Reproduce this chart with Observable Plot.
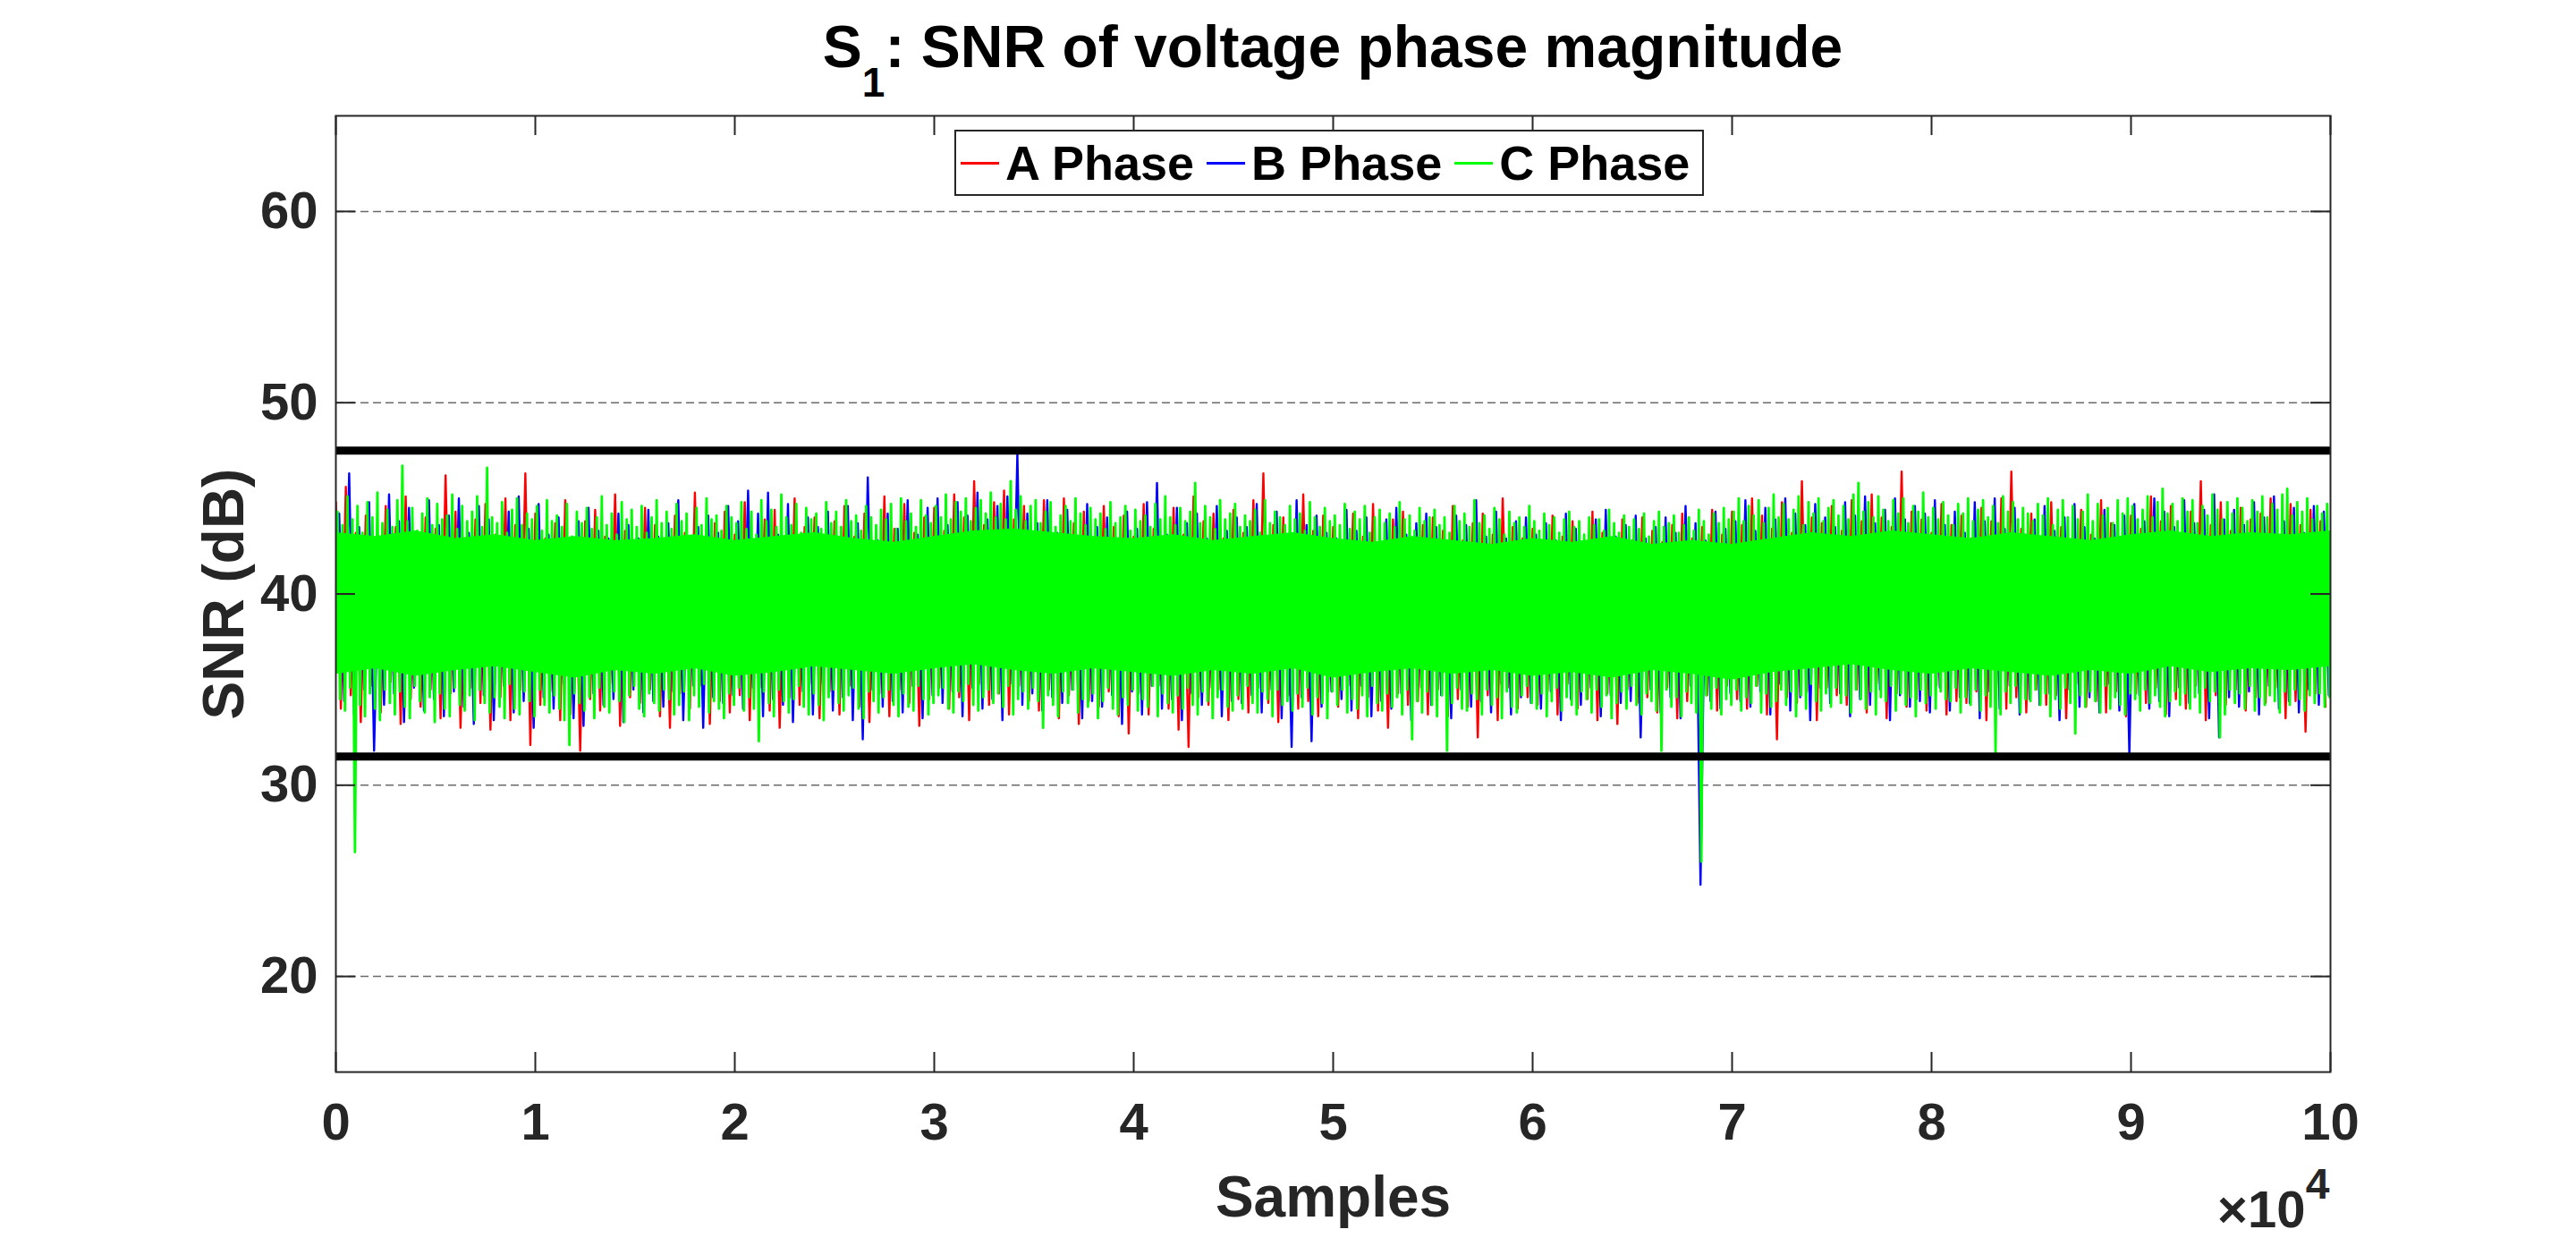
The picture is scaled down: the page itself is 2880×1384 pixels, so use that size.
<!DOCTYPE html>
<html>
<head>
<meta charset="utf-8">
<script src="https://cdn.jsdelivr.net/npm/d3@7"></script>
<script src="https://cdn.jsdelivr.net/npm/@observablehq/plot@0.6"></script>
<style>
  html, body { margin: 0; padding: 0; background: #fff; }
  #wrap { position: relative; width: 2880px; height: 1384px; overflow: hidden;
          font-family: "Liberation Sans", Arial, Helvetica, sans-serif; }
  #title { position: absolute; left: 1490px; top: 19px; transform: translateX(-50%);
           font-size: 66px; font-weight: bold; line-height: 1; white-space: nowrap; color: #000; }
  #title .sub { font-size: 46px; position: relative; top: 33px; }
  #legend { position: absolute; left: 1067px; top: 145px; width: 834px; height: 70px;
            border: 2px solid #262626; background: #fff; display: flex; align-items: center; }
  #legend .sw { width: 43px; height: 3px; flex: none; }
  #legend .lbl { font-size: 54px; font-weight: bold; color: #000; line-height: 1; white-space: nowrap; margin-left: 7px; }
  #legend .sw.first { margin-left: 5px; }
  #legend .sw.next { margin-left: 14px; }
</style>
</head>
<body>
<div id="wrap">
  <div id="chart"></div>
  <div id="title">S<span class="sub">1</span>: SNR of voltage phase magnitude</div>
  <div id="legend"></div>
</div>
<script>
// ---------- data ----------
const seriesNames = ["A Phase", "B Phase", "C Phase"];
const seriesColors = ["#ff0000", "#0000ff", "#00ff00"];
const xTicks = [0, 10000, 20000, 30000, 40000, 50000, 60000, 70000, 80000, 90000, 100000];
const xTickLabels = ["0", "1", "2", "3", "4", "5", "6", "7", "8", "9", "10"];
const yTicks = [20, 30, 40, 50, 60];
const thresholds = [47.5, 31.5];
const abSamples = 500;    // A, B: one peak & trough per 500-sample window
const cSamples = 250;     // C (plotted last, most visible): one peak & trough per 250 samples
const bodySamples = 2000; // spacing of the dense-band edge readings

// A Phase: local peaks / troughs (dB)
const aPeak = [
  44.8, 45.6, 43.2, 44.1, 42.9, 44.6, 43.5, 45.1, 42.7, 44.0,
  43.4, 46.2, 44.3, 42.8, 43.9, 44.7, 43.1, 45.0, 43.6, 46.3,
  44.2, 42.9, 43.7, 44.9, 42.6, 43.8, 44.4, 43.0, 45.2, 43.3,
  42.8, 44.5, 43.6, 42.7, 44.1, 43.2, 45.3, 42.9, 43.7, 44.3,
  43.1, 44.8, 42.6, 43.9, 44.4, 42.8, 45.0, 43.5, 44.0, 42.9,
  43.8, 44.6, 43.0, 44.2, 42.7, 45.1, 43.4, 44.7, 43.2, 44.0,
  44.5, 43.3, 45.2, 44.0, 45.9, 43.6, 44.8, 45.4, 43.9, 44.6,
  43.2, 44.9, 42.8, 45.0, 43.7, 44.3, 42.9, 44.6, 43.5, 44.1,
  43.0, 44.7, 43.4, 42.8, 44.5, 43.1, 45.1, 43.8, 44.2, 42.9,
  44.4, 43.2, 44.9, 46.3, 43.6, 44.0, 42.7, 45.2, 43.3, 44.1,
  43.5, 42.8, 44.2, 43.0, 44.7, 42.6, 43.9, 44.3, 42.9, 43.6,
  44.0, 43.3, 44.6, 42.8, 43.7, 44.2, 43.1, 45.0, 43.5, 42.9,
  43.4, 42.7, 44.1, 43.0, 43.8, 42.6, 44.3, 43.2, 42.9, 43.9,
  42.8, 44.0, 43.3, 42.7, 43.6, 44.2, 42.9, 43.5, 44.4, 43.1,
  44.3, 43.6, 45.0, 44.1, 43.4, 44.8, 43.2, 45.9, 44.0, 43.7,
  44.6, 43.3, 44.9, 43.8, 45.2, 44.0, 43.5, 46.4, 44.3, 43.9,
  43.2, 44.7, 43.6, 44.1, 42.9, 44.5, 43.8, 45.0, 46.4, 43.4,
  44.2, 43.0, 44.8, 43.5, 42.8, 44.4, 43.1, 44.9, 43.7, 42.9,
  44.1, 43.4, 45.1, 43.8, 44.6, 43.0, 44.3, 45.9, 43.6, 44.8,
  43.3, 44.5, 43.9, 44.2, 45.0, 43.1, 44.7, 43.6, 44.4, 43.8
];
const aTrough = [
  34.0, 34.7, 33.3, 35.2, 33.8, 35.4, 33.2, 34.5, 34.1, 35.0,
  33.5, 34.8, 33.0, 35.1, 34.3, 32.9, 34.6, 33.4, 35.0, 32.1,
  34.2, 34.9, 33.4, 33.7, 31.8, 34.5, 33.9, 35.3, 33.1, 34.6,
  34.3, 35.0, 33.6, 33.0, 34.8, 34.0, 35.2, 33.2, 34.4, 33.8,
  34.7, 33.4, 35.1, 33.9, 33.0, 34.6, 34.2, 35.3, 33.5, 34.9,
  33.7, 35.2, 34.1, 33.3, 34.8, 33.6, 35.0, 34.3, 33.1, 34.5,
  35.1, 34.0, 34.6, 33.4, 35.3, 34.2, 34.8, 33.7, 35.2, 34.4,
  33.9, 35.0, 33.5, 34.7, 33.2, 34.4, 34.1, 34.9, 33.6, 32.7,
  34.8, 33.7, 35.2, 34.0, 32.9, 32.0, 34.6, 34.2, 35.0, 33.4,
  34.5, 33.8, 35.1, 34.3, 33.3, 34.7, 34.0, 34.4, 33.6, 34.9,
  34.1, 35.2, 33.5, 34.6, 33.9, 33.0, 34.8, 34.2, 34.4, 33.7,
  35.0, 33.6, 34.5, 34.1, 32.5, 34.7, 33.4, 35.1, 34.0, 34.6,
  34.2, 34.9, 33.7, 35.3, 34.0, 34.5, 33.4, 34.8, 33.2, 35.0,
  34.3, 34.6, 33.8, 35.1, 33.5, 34.4, 34.1, 34.7, 33.9, 35.2,
  34.5, 34.0, 35.2, 33.7, 32.4, 34.6, 34.3, 34.9, 33.4, 35.1,
  34.7, 34.2, 35.0, 33.8, 35.3, 33.5, 34.8, 34.1, 34.5, 33.9,
  35.2, 33.7, 34.4, 34.3, 34.9, 33.4, 35.1, 34.0, 34.6, 33.8,
  35.0, 34.2, 34.7, 33.5, 35.3, 34.1, 34.4, 33.8, 34.9, 33.6,
  34.8, 34.3, 35.1, 33.7, 34.5, 34.0, 35.2, 33.4, 34.7, 34.2,
  35.0, 33.9, 34.6, 34.3, 35.1, 33.5, 34.4, 32.8, 34.8, 34.1
];

// B Phase
const bPeak = [
  44.2, 46.3, 43.5, 44.8, 43.0, 45.2, 43.8, 44.5, 42.9, 44.9,
  43.6, 44.1, 45.0, 43.2, 44.6, 43.9, 42.8, 44.3, 45.1, 43.4,
  44.7, 43.1, 44.0, 42.7, 43.8, 44.5, 43.3, 42.9, 44.2, 43.6,
  42.9, 44.4, 43.0, 43.7, 44.9, 42.8, 43.5, 44.1, 43.2, 44.6,
  43.8, 45.4, 44.2, 45.3, 43.1, 44.7, 42.9, 44.0, 43.5, 44.3,
  43.0, 44.6, 43.7, 46.1, 42.8, 44.2, 43.4, 44.9, 43.1, 44.5,
  45.0, 43.6, 44.8, 44.1, 45.3, 43.9, 44.6, 45.1, 47.3, 44.2,
  43.7, 44.9, 43.2, 44.4, 42.9, 44.7, 43.5, 44.0, 42.8, 44.3,
  43.4, 44.8, 45.8, 43.1, 44.5, 43.7, 44.2, 42.9, 44.6, 43.3,
  44.0, 43.5, 44.7, 43.0, 44.3, 42.8, 44.9, 43.6, 44.1, 43.2,
  42.9, 44.4, 43.3, 44.0, 42.7, 43.9, 44.5, 43.1, 43.7, 44.2,
  43.5, 42.8, 44.1, 43.6, 44.9, 43.0, 44.3, 42.9, 43.8, 44.0,
  43.1, 43.7, 42.8, 44.2, 43.4, 42.7, 43.9, 44.4, 43.0, 43.6,
  44.1, 42.9, 43.5, 44.0, 43.2, 44.6, 43.7, 42.8, 44.3, 43.4,
  43.8, 44.9, 43.3, 44.5, 43.9, 45.0, 44.2, 43.6, 44.7, 44.0,
  43.5, 44.8, 44.1, 45.1, 43.7, 44.4, 45.0, 43.9, 44.6, 44.2,
  44.9, 43.6, 44.3, 43.2, 44.8, 43.8, 45.0, 43.4, 44.5, 43.1,
  43.9, 44.6, 43.3, 44.0, 44.7, 43.5, 42.9, 44.4, 43.6, 44.1,
  44.7, 43.8, 45.0, 44.3, 43.5, 44.9, 43.7, 44.4, 45.2, 43.9,
  44.4, 43.6, 44.8, 44.0, 45.1, 43.8, 44.5, 43.2, 44.6, 44.3
];
const bTrough = [
  34.4, 33.7, 35.0, 31.8, 34.2, 34.8, 33.3, 35.1, 33.9, 34.5,
  33.6, 34.9, 34.1, 33.2, 34.7, 33.4, 35.2, 33.8, 34.4, 33.0,
  34.6, 34.0, 35.3, 33.5, 33.1, 34.8, 34.2, 34.5, 33.3, 35.0,
  33.8, 34.4, 34.1, 34.9, 33.4, 35.2, 33.0, 34.6, 34.3, 34.7,
  34.0, 35.1, 33.6, 34.5, 34.2, 33.3, 34.9, 33.7, 35.3, 33.9,
  34.6, 33.4, 32.4, 35.0, 34.1, 34.4, 33.8, 35.2, 33.5, 34.7,
  34.3, 34.9, 33.6, 35.1, 34.0, 34.5, 33.4, 35.3, 34.2, 34.8,
  33.9, 34.6, 34.3, 35.0, 33.5, 34.4, 34.1, 34.7, 33.2, 34.9,
  33.7, 35.2, 34.0, 34.5, 33.4, 34.8, 34.2, 35.1, 33.6, 34.4,
  34.3, 34.7, 33.8, 35.0, 33.5, 32.0, 34.6, 32.3, 34.1, 34.9,
  34.5, 33.9, 35.2, 33.6, 34.4, 34.0, 34.8, 33.4, 35.1, 34.2,
  34.7, 33.5, 35.0, 34.1, 34.4, 33.8, 35.3, 33.7, 34.6, 34.3,
  34.0, 34.9, 33.4, 34.5, 34.2, 35.1, 33.6, 34.7, 34.3, 34.4,
  32.5, 35.0, 33.8, 34.6, 33.5, 35.2, 24.8, 34.4, 34.0, 34.8,
  34.4, 34.1, 34.9, 33.7, 35.3, 33.9, 34.6, 33.4, 35.1, 34.3,
  34.8, 33.6, 34.5, 34.2, 35.0, 33.4, 34.7, 34.1, 34.4, 33.8,
  35.1, 33.9, 34.6, 34.3, 33.5, 34.9, 34.0, 35.2, 33.7, 34.5,
  34.2, 34.8, 33.4, 35.0, 34.1, 34.6, 33.8, 35.3, 33.9, 31.6,
  34.7, 34.0, 34.4, 33.6, 35.1, 34.3, 34.8, 33.5, 32.5, 34.6,
  34.1, 34.9, 33.7, 35.2, 34.0, 34.4, 33.8, 35.0, 34.2, 34.7
];

// C Phase (400 windows of 250 samples)
const cPeak = [
  44.3, 43.6, 45.1, 43.9, 44.6, 43.2, 44.8, 44.0, 45.3, 43.7,
  44.4, 43.5, 44.9, 46.7, 43.8, 44.5, 43.3, 44.2, 45.0, 43.6,
  44.7, 43.9, 44.1, 45.2, 43.4, 44.6, 43.8, 44.3, 45.1, 43.5,
  46.6, 44.0, 43.7, 44.8, 43.2, 44.4, 45.0, 43.6, 44.2, 43.9,
  44.6, 43.3, 44.9, 43.8, 44.1, 43.5, 44.7, 43.0, 44.3, 43.7,
  44.5, 43.4, 44.0, 45.1, 43.6, 44.2, 43.1, 44.8, 43.9, 44.4,
  43.5, 44.6, 43.2, 44.0, 44.9, 43.7, 44.3, 43.4, 44.7, 43.8,
  44.2, 43.0, 44.5, 43.6, 45.0, 43.9, 44.1, 43.3, 44.6, 44.0,
  43.7, 44.8, 43.4, 44.3, 43.1, 44.9, 43.8, 44.4, 43.5, 45.2,
  44.0, 43.6, 44.7, 43.2, 44.5, 43.9, 44.2, 43.4, 44.8, 43.7,
  44.3, 43.5, 44.9, 43.8, 44.1, 43.3, 44.6, 44.0, 43.6, 44.4,
  43.9, 44.7, 43.4, 45.0, 43.8, 44.2, 43.5, 44.9, 44.1, 43.7,
  44.6, 44.0, 45.2, 43.9, 44.8, 44.3, 45.0, 43.8, 44.5, 44.9,
  44.2, 45.3, 44.0, 44.7, 43.9, 45.9, 44.4, 45.1, 43.8, 44.6,
  44.9, 43.7, 44.3, 44.8, 43.5, 44.1, 44.6, 43.8, 45.0, 44.2,
  43.6, 44.5, 43.9, 44.2, 43.4, 44.8, 43.7, 44.0, 44.6, 43.3,
  44.4, 43.8, 44.1, 43.5, 44.7, 43.9, 45.1, 44.0, 43.6, 44.5,
  43.8, 44.3, 45.8, 43.7, 44.6, 44.0, 43.4, 44.9, 43.9, 44.2,
  44.7, 43.5, 44.1, 43.8, 44.4, 43.2, 44.9, 43.7, 44.3, 44.0,
  43.6, 44.6, 43.9, 44.2, 43.3, 44.8, 44.0, 43.5, 44.5, 43.8,
  44.1, 43.6, 44.7, 43.4, 44.3, 43.9, 44.6, 43.2, 44.0, 44.4,
  43.7, 44.2, 43.5, 44.8, 43.9, 44.1, 43.3, 44.5, 43.8, 44.0,
  44.4, 43.6, 44.0, 43.2, 44.6, 43.8, 44.2, 43.5, 44.9, 43.7,
  44.1, 43.4, 44.5, 43.9, 43.1, 44.3, 43.7, 44.0, 43.5, 44.6,
  43.8, 43.3, 44.2, 43.6, 44.0, 43.2, 43.9, 44.3, 43.5, 43.8,
  43.1, 44.0, 43.6, 43.9, 43.3, 44.4, 43.7, 43.2, 44.1, 43.5,
  43.9, 43.4, 44.2, 43.0, 43.8, 44.3, 43.5, 43.7, 44.1, 43.2,
  43.6, 44.0, 43.3, 44.4, 43.8, 43.1, 44.2, 43.7, 44.5, 43.9,
  44.3, 45.0, 43.8, 44.6, 44.1, 44.9, 43.7, 44.5, 45.2, 44.0,
  44.7, 43.9, 44.4, 45.1, 43.6, 44.8, 44.2, 45.0, 43.8, 44.5,
  44.9, 44.1, 44.6, 43.9, 45.2, 45.8, 44.3, 44.8, 44.0, 45.1,
  44.4, 43.8, 44.9, 44.2, 45.0, 43.7, 44.6, 44.3, 45.3, 44.0,
  44.5, 43.9, 44.8, 44.1, 43.6, 44.7, 44.2, 45.0, 43.8, 44.4,
  44.9, 44.0, 44.6, 43.7, 45.1, 44.3, 44.8, 43.9, 44.5, 44.2,
  43.8, 44.7, 44.1, 45.0, 43.6, 44.4, 44.9, 44.0, 44.6, 43.9,
  44.3, 45.2, 43.8, 44.7, 44.1, 44.5, 43.7, 44.9, 44.2, 45.0,
  44.6, 43.9, 44.4, 45.1, 44.0, 44.8, 45.5, 44.2, 44.7, 43.8,
  45.0, 44.3, 44.9, 43.7, 44.6, 44.1, 45.2, 44.4, 43.9, 44.8,
  44.2, 45.0, 44.5, 43.8, 44.9, 44.3, 45.1, 44.0, 44.7, 44.4,
  45.2, 45.5, 44.1, 44.8, 44.3, 45.0, 43.9, 44.6, 44.2, 44.7
];
const cTrough = [
  34.5, 33.9, 35.1, 26.5, 34.2, 33.6, 34.8, 34.0, 33.4, 35.0,
  34.3, 33.7, 34.9, 34.1, 33.5, 35.2, 34.4, 33.8, 34.6, 33.3,
  34.8, 34.0, 33.6, 35.1, 34.2, 33.9, 34.7, 33.4, 35.0, 34.3,
  33.8, 34.6, 34.1, 33.5, 35.3, 34.0, 33.7, 34.9, 34.4, 33.6,
  35.0, 34.2, 33.8, 34.7, 34.0, 33.4, 32.1, 34.8, 34.3, 33.9,
  34.6, 33.5, 35.1, 34.1, 33.8, 34.9, 34.4, 33.3, 34.7, 35.2,
  34.0, 33.6, 34.8, 34.3, 33.9, 35.0, 34.5, 33.7, 34.2, 34.9,
  33.4, 34.7, 34.1, 35.3, 33.8, 34.4, 34.0, 33.5, 34.8, 34.2,
  35.1, 33.9, 34.6, 34.0, 32.3, 34.9, 34.3, 33.6, 35.0, 34.4,
  33.8, 34.5, 35.2, 34.1, 33.7, 34.8, 34.2, 33.4, 34.6, 35.0,
  34.3, 33.9, 34.7, 35.1, 34.0, 33.5, 34.9, 34.4, 33.8, 34.6,
  35.0, 34.2, 33.6, 34.8, 34.1, 33.9, 35.2, 34.5, 33.7, 34.3,
  34.7, 35.1, 34.0, 33.8, 34.9, 34.4, 35.3, 34.2, 33.9, 34.6,
  35.0, 34.3, 34.8, 34.1, 35.2, 33.7, 34.5, 34.9, 34.0, 35.1,
  34.4, 33.0, 34.7, 34.2, 33.6, 34.9, 34.3, 35.0, 33.8, 34.5,
  34.1, 34.8, 33.5, 34.4, 35.1, 34.0, 33.7, 34.6, 34.2, 35.0,
  33.9, 34.5, 34.1, 35.2, 33.6, 34.8, 34.3, 33.8, 34.7, 34.0,
  35.1, 34.2, 33.7, 34.9, 34.4, 33.5, 34.6, 35.0, 34.1, 33.9,
  34.7, 34.0, 35.2, 34.3, 33.8, 34.9, 34.5, 33.6, 35.0, 34.2,
  34.4, 33.9, 34.8, 34.1, 35.1, 33.7, 34.6, 34.3, 33.5, 34.9,
  34.2, 35.0, 33.8, 34.5, 34.0, 34.7, 33.6, 35.2, 34.3, 33.9,
  34.8, 34.1, 34.6, 33.7, 35.0, 32.4, 34.4, 33.8, 34.9, 34.2,
  33.6, 34.7, 31.8, 34.3, 35.1, 34.0, 33.9, 34.8, 34.5, 33.7,
  35.0, 34.2, 34.6, 33.5, 34.9, 34.1, 33.8, 34.7, 35.2, 34.3,
  34.0, 34.8, 33.6, 34.4, 35.1, 33.9, 34.6, 34.2, 33.7, 34.9,
  34.5, 33.8, 35.0, 34.1, 34.7, 33.5, 34.3, 34.9, 34.0, 35.2,
  34.2, 33.7, 34.8, 34.4, 33.9, 31.8, 35.0, 34.1, 34.6, 33.6,
  34.9, 34.3, 33.8, 26.0, 34.7, 34.0, 35.1, 33.7, 34.5, 34.2,
  35.0, 33.9, 34.6, 34.3, 35.2, 33.8, 34.8, 34.1, 34.4, 35.0,
  34.2, 34.9, 33.6, 34.7, 34.0, 35.3, 34.4, 33.9, 34.8, 34.1,
  35.1, 34.3, 34.7, 33.8, 35.0, 34.5, 34.0, 34.9, 33.7, 34.6,
  34.4, 35.2, 33.9, 34.8, 34.2, 34.6, 33.6, 35.0, 34.3, 34.7,
  34.0, 34.9, 34.5, 34.4, 35.1, 33.8, 34.6, 34.2, 35.0, 33.9,
  34.7, 34.1, 31.7, 33.7, 34.9, 34.3, 35.2, 33.8, 34.5, 34.4,
  35.0, 34.2, 34.8, 33.6, 34.5, 34.0, 35.1, 34.3, 32.7, 34.7,
  34.1, 34.9, 34.4, 33.8, 35.2, 34.0, 34.6, 34.2, 33.7, 34.8,
  34.5, 33.9, 35.0, 34.3, 34.7, 34.1, 33.6, 34.4, 34.9, 34.2,
  34.8, 34.0, 34.6, 33.8, 35.1, 34.4, 34.9, 32.5, 33.7, 35.0,
  34.3, 34.8, 34.0, 35.2, 33.9, 34.6, 34.2, 34.7, 34.4, 33.8,
  34.9, 34.2, 35.0, 34.5, 33.9, 34.7, 34.3, 34.8, 34.1, 34.6
];

// edges of the solid (fully overplotted) band, one reading every 2000 samples
const bodyTop = [
  43.2, 43.0, 43.3, 42.9, 43.1, 42.8, 43.0, 42.8, 42.9, 43.1,
  42.8, 43.0, 43.2, 42.9, 42.7, 43.0, 43.3, 43.4, 43.2, 43.0,
  42.9, 43.1, 42.8, 43.0, 43.2, 42.9, 42.7, 43.0, 42.8, 42.6,
  42.9, 42.7, 43.0, 42.6, 42.8, 42.6, 42.9, 43.2, 43.0, 43.3,
  43.1, 42.9, 43.2, 43.0, 42.8, 43.1, 43.3, 43.0, 43.2, 43.1,
  43.3
];
const bodyBottom = [
  35.8, 36.1, 35.7, 36.0, 36.2, 35.9, 35.6, 36.0, 35.8, 36.1,
  35.7, 35.9, 36.2, 36.0, 35.8, 36.1, 36.3, 36.0, 35.8, 36.1,
  35.9, 35.7, 36.0, 35.8, 36.1, 35.6, 35.9, 36.1, 35.8, 36.0,
  35.7, 35.9, 35.6, 36.0, 35.8, 35.5, 35.9, 36.1, 36.3, 36.0,
  35.8, 36.1, 35.9, 35.7, 36.0, 35.8, 36.2, 35.9, 36.1, 36.0,
  36.2
];

// ---------- build traces ----------
const seriesStart = [0, 167, 83]; // first sample index of each phase's readings
function trace(peaks, troughs, start, step) {
  const pts = [];
  peaks.forEach((p, i) => {
    pts.push({x: start + i * step, y: p});
    pts.push({x: start + i * step + step / 2, y: troughs[i]});
  });
  return pts;
}
const traceA = trace(aPeak, aTrough, seriesStart[0], abSamples);
const traceB = trace(bPeak, bTrough, seriesStart[1], abSamples);
const traceC = trace(cPeak, cTrough, seriesStart[2], cSamples);
const body = bodyTop.map((t, i) => ({x: i * bodySamples, top: t, bottom: bodyBottom[i]}));

// ---------- layout ----------
const W = 2880, H = 1384, mL = 375, mR = 275, mT = 129, mB = 186;
const frameW = W - mL - mR, frameH = H - mT - mB, tickLen = 22;
const axisColor = "#262626";

const chart = Plot.plot({
  width: W, height: H,
  marginLeft: mL, marginRight: mR, marginTop: mT, marginBottom: mB,
  style: {fontFamily: "'Liberation Sans', Arial, Helvetica, sans-serif", fontWeight: "bold",
          color: axisColor, background: "#fff"},
  x: {domain: [0, 100000]},
  y: {domain: [15, 65]},
  marks: [
    Plot.ruleY(yTicks, {y: d => d, stroke: "#6a6a6a", strokeWidth: 1.5, strokeDasharray: "9,5"}),
    Plot.line(traceA, {x: "x", y: "y", stroke: seriesColors[0], strokeWidth: 2.4, clip: true}),
    Plot.line(traceB, {x: "x", y: "y", stroke: seriesColors[1], strokeWidth: 2.4, clip: true}),
    Plot.areaY(body, {x: "x", y1: "bottom", y2: "top", fill: seriesColors[2], clip: true}),
    Plot.line(traceC, {x: "x", y: "y", stroke: seriesColors[2], strokeWidth: 2.8, clip: true}),
    Plot.ruleY(thresholds, {y: d => d, stroke: "#000", strokeWidth: 9}),
    Plot.frame({stroke: axisColor, strokeWidth: 2}),
    Plot.tickX(xTicks, {x: d => d, insetTop: frameH - tickLen, stroke: axisColor, strokeWidth: 2}),
    Plot.tickX(xTicks, {x: d => d, insetBottom: frameH - tickLen, stroke: axisColor, strokeWidth: 2}),
    Plot.tickY(yTicks, {y: d => d, insetRight: frameW - tickLen, stroke: axisColor, strokeWidth: 2}),
    Plot.tickY(yTicks, {y: d => d, insetLeft: frameW - tickLen, stroke: axisColor, strokeWidth: 2}),
    Plot.axisX({ticks: xTicks, tickFormat: d => xTickLabels[xTicks.indexOf(d)], tickSize: 0,
                tickPadding: 34, fontSize: 58, label: null}),
    Plot.axisY({ticks: yTicks, tickSize: 0, tickPadding: 20, fontSize: 58, label: null}),
    Plot.text(["Samples"], {text: d => d, frameAnchor: "bottom", dy: 161, lineAnchor: "bottom",
                            fontSize: 64, fill: axisColor}),
    Plot.text(["SNR (dB)"], {text: d => d, frameAnchor: "left", dx: -104, rotate: -90,
                             lineAnchor: "bottom", textAnchor: "middle", fontSize: 64, fill: axisColor}),
    Plot.text(["×10"], {text: d => d, frameAnchor: "bottom-right", dx: -28, dy: 173,
                        lineAnchor: "bottom", textAnchor: "end", fontSize: 58, fill: axisColor}),
    Plot.text(["4"], {text: d => d, frameAnchor: "bottom-right", dx: -1, dy: 141,
                      lineAnchor: "bottom", textAnchor: "end", fontSize: 48, fill: axisColor})
  ]
});
document.getElementById("chart").appendChild(chart);

// ---------- legend ----------
const legend = document.getElementById("legend");
seriesNames.forEach((name, i) => {
  const sw = document.createElement("div");
  sw.className = "sw " + (i === 0 ? "first" : "next");
  sw.style.background = seriesColors[i];
  const lbl = document.createElement("div");
  lbl.className = "lbl";
  lbl.textContent = name;
  legend.appendChild(sw);
  legend.appendChild(lbl);
});
</script>
</body>
</html>
